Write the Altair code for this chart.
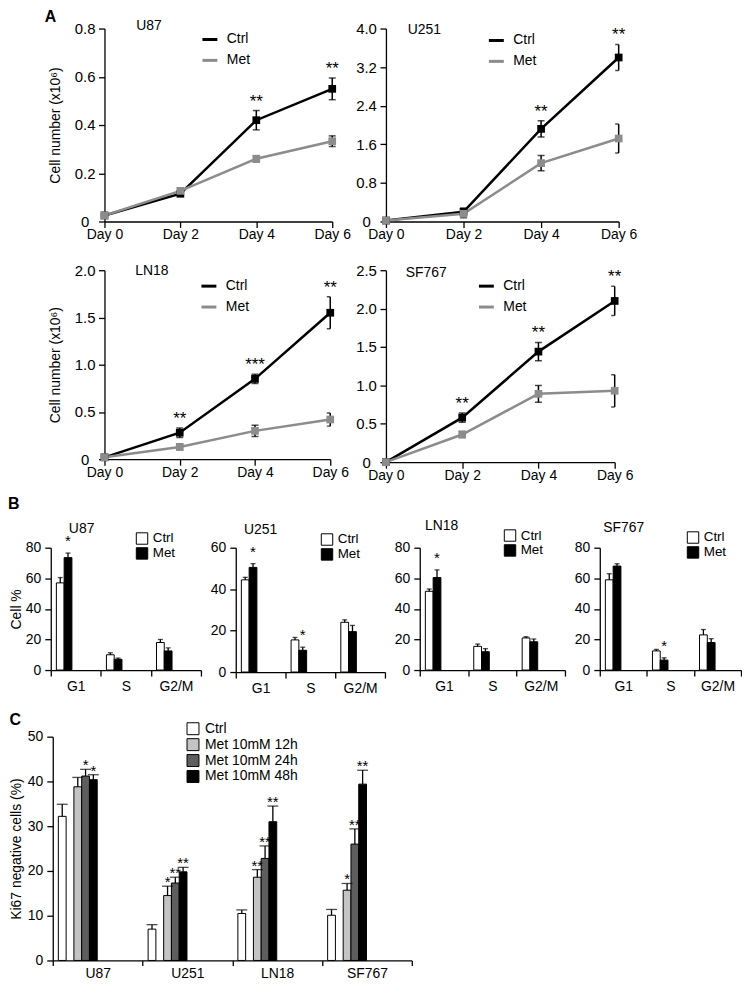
import altair as alt
import pandas as pd

FONT = "Liberation Sans"

# ---------------- Panel A : growth curves ----------------
days = [0, 2, 4, 6]
a_groups = ["Ctrl", "Met"]

u87_ctrl = [0.025, 0.115, 0.42, 0.55]
u87_ctrl_err = [0.0, 0.01, 0.04, 0.045]
u87_met = [0.025, 0.127, 0.26, 0.333]
u87_met_err = [0.0, 0.012, 0.013, 0.022]
u87_stars = ["", "", "**", "**"]
u87_ticks = [0, 0.2, 0.4, 0.6, 0.8]

u251_ctrl = [0.02, 0.20, 1.92, 3.40]
u251_ctrl_err = [0.0, 0.08, 0.17, 0.27]
u251_met = [0.02, 0.16, 1.21, 1.72]
u251_met_err = [0.0, 0.08, 0.16, 0.30]
u251_stars = ["", "", "**", "**"]
u251_ticks = [0, 0.8, 1.6, 2.4, 3.2, 4.0]

ln18_ctrl = [0.02, 0.28, 0.85, 1.55]
ln18_ctrl_err = [0.0, 0.05, 0.05, 0.17]
ln18_met = [0.02, 0.13, 0.30, 0.42]
ln18_met_err = [0.0, 0.03, 0.06, 0.07]
ln18_stars = ["", "**", "***", "**"]
ln18_ticks = [0, 0.5, 1.0, 1.5, 2.0]

sf767_ctrl = [0.0, 0.58, 1.44, 2.10]
sf767_ctrl_err = [0.0, 0.06, 0.12, 0.19]
sf767_met = [0.0, 0.36, 0.89, 0.93]
sf767_met_err = [0.0, 0.04, 0.11, 0.21]
sf767_stars = ["", "**", "**", "**"]
sf767_ticks = [0, 0.5, 1.0, 1.5, 2.0, 2.5]

# ---------------- Panel B : cell cycle ----------------
phases = ["G1", "S", "G2/M"]
b_groups = ["Ctrl", "Met"]

b_u87_ctrl = [57, 10, 18]
b_u87_ctrl_err = [3.5, 1.3, 2.0]
b_u87_met = [73.5, 7, 12.5]
b_u87_met_err = [3.0, 0.8, 2.0]
b_u87_stars = ["*", "", ""]

b_u251_ctrl = [44.5, 15.5, 24]
b_u251_ctrl_err = [1.2, 1.2, 1.2]
b_u251_met = [50.5, 10.5, 19.5]
b_u251_met_err = [1.8, 1.5, 3.0]
b_u251_stars = ["*", "*", ""]

b_ln18_ctrl = [51.5, 15.5, 21]
b_ln18_ctrl_err = [1.5, 1.5, 0.8]
b_ln18_met = [60.5, 12, 18.5]
b_ln18_met_err = [5.0, 2.0, 1.8]
b_ln18_stars = ["*", "", ""]

b_sf767_ctrl = [59, 12.5, 23]
b_sf767_ctrl_err = [4.0, 1.0, 3.5]
b_sf767_met = [68, 6.5, 18]
b_sf767_met_err = [1.5, 1.5, 2.5]
b_sf767_stars = ["", "*", ""]

# ---------------- Panel C : Ki67 ----------------
c_cells = ["U87", "U251", "LN18", "SF767"]
c_groups = ["Ctrl", "Met 10mM 12h", "Met 10mM 24h", "Met 10mM 48h"]
c_ctrl = [32.2, 7.0, 10.5, 10.1]
c_ctrl_err = [2.7, 1.0, 0.8, 1.3]
c_12h = [38.8, 14.5, 18.6, 15.7]
c_12h_err = [2.1, 2.1, 1.7, 1.5]
c_24h = [41.2, 17.3, 22.8, 26.0]
c_24h_err = [1.5, 1.3, 2.8, 3.4]
c_48h = [40.4, 19.8, 31.0, 39.4]
c_48h_err = [1.1, 1.0, 3.5, 3.1]
c_12h_stars = ["", "*", "**", "*"]
c_24h_stars = ["*", "**", "**", "**"]
c_48h_stars = ["*", "**", "**", "**"]
c_ticks = [0, 10, 20, 30, 40, 50]


def spacer(w, h=1):
    return alt.Chart(pd.DataFrame({"v": [0]})).mark_point(opacity=0, size=1).properties(
        width=w, height=h)


def line_panel(name, ctrl, ctrl_err, met, met_err, stars, yticks, w, h, ytitle,
               tdx, toff, lx, ly, clip_caps):
    recs = []
    for g, vals, errs in (("Ctrl", ctrl, ctrl_err), ("Met", met, met_err)):
        for d, v, e in zip(days, vals, errs):
            recs.append({"day": d, "group": g, "value": v, "lo": v - e, "hi": v + e, "err": e})
    df = pd.DataFrame(recs)
    edf = df[df["err"] > 0]
    sdf = pd.DataFrame({"day": days, "hi": [v + e for v, e in zip(ctrl, ctrl_err)], "star": stars})
    sdf = sdf[sdf["star"] != ""]

    xs = alt.Scale(domain=[0, 6], nice=False, zero=False)
    ys = alt.Scale(domain=[0, yticks[-1]], nice=False)
    xax = alt.Axis(values=days, labelExpr="'Day ' + datum.value", labelFlush=False,
                   labelPadding=0, labelFontSize=14)
    yax = alt.Axis(values=yticks, titlePadding=12, labelFontSize=15, labelAlign="center",
                   labelPadding=14,
                   labelExpr="datum.value == 0 ? '0' : format(datum.value, '.1f')")

    def X(f):
        return alt.X(f"{f}:Q", scale=xs, axis=xax, title=None)

    def Y(f):
        return alt.Y(f"{f}:Q", scale=ys, axis=yax, title=ytitle)

    cs = alt.Scale(domain=a_groups, range=["#000000", "#8c8c8c"])
    leg = alt.Legend(orient="none", legendX=lx, legendY=ly, title=None, symbolType="stroke",
                     symbolSize=225, symbolStrokeWidth=3, labelFontSize=14, labelOffset=8,
                     rowPadding=5, padding=0)
    base = alt.Chart(df)
    line = base.mark_line(strokeWidth=2.5).encode(
        x=X("day"), y=Y("value"), color=alt.Color("group:N", scale=cs, legend=leg))
    pts = base.mark_point(shape="square", filled=True, size=60, opacity=1).encode(
        x=X("day"), y=Y("value"), color=alt.Color("group:N", scale=cs, legend=None))
    ebase = alt.Chart(edf)
    rule = ebase.mark_rule(color="black", strokeWidth=1.5).encode(
        x=X("day"), y=Y("lo"), y2="hi:Q")
    cap_hi = ebase.mark_tick(color="black", size=7, thickness=1.5, orient="horizontal",
                             clip=clip_caps).encode(x=X("day"), y=Y("hi"))
    cap_lo = ebase.mark_tick(color="black", size=7, thickness=1.5, orient="horizontal",
                             clip=clip_caps).encode(x=X("day"), y=Y("lo"))
    star = alt.Chart(sdf).mark_text(fontSize=17, baseline="alphabetic", dy=-4,
                                     color="black", font=FONT).encode(
        x=X("day"), y=Y("hi"), text="star:N")
    return alt.layer(line, rule, cap_hi, cap_lo, pts, star).properties(
        width=w, height=h,
        title=alt.TitleParams(name, anchor="start", frame="group", dx=tdx, offset=toff,
                              fontSize=14, fontWeight="normal", font=FONT, color="black"))


def grouped_bars(df, sdf, xfield, xdomain, groups, colors, yticks, w, h, ytitle, tpad,
                 pad_outer, cap, leg, star_size, star_dy, title, xtick, xlabpad):
    xs = alt.Scale(domain=xdomain, paddingInner=0, paddingOuter=0)
    xax = alt.Axis(labelAngle=0, tickBand="extent", labelPadding=xlabpad, tickSize=xtick)
    xo = alt.XOffset("group:N", scale=alt.Scale(domain=groups, paddingInner=0,
                                                paddingOuter=pad_outer))
    ys = alt.Scale(domain=[0, yticks[-1]], nice=False)
    yax = alt.Axis(values=yticks, titlePadding=tpad)

    X = alt.X(f"{xfield}:N", scale=xs, axis=xax, title=None)

    def Y(f):
        return alt.Y(f"{f}:Q", scale=ys, axis=yax, title=ytitle)

    base = alt.Chart(df)
    bars = base.mark_bar(stroke="black", strokeWidth=1).encode(
        x=X, xOffset=xo, y=Y("value"),
        color=alt.Color("group:N", scale=alt.Scale(domain=groups, range=colors), legend=leg))
    rule = base.mark_rule(color="black", strokeWidth=1.3).encode(
        x=X, xOffset=xo, y=Y("value"), y2="hi:Q")
    capm = base.mark_tick(color="black", size=cap, thickness=1.3, orient="horizontal").encode(
        x=X, xOffset=xo, y=Y("hi"))
    star = alt.Chart(sdf).mark_text(fontSize=star_size, baseline="alphabetic", dy=star_dy,
                                     color="black", font=FONT).encode(
        x=X, xOffset=xo, y=Y("hi"), text="star:N")
    return alt.layer(bars, rule, capm, star).properties(width=w, height=h, title=title)


def cycle_panel(name, ctrl, ctrl_err, met, met_err, stars, yticks, ytitle, tdx, toff, lx, ly,
                w, h=123):
    recs = []
    for g, vals, errs in (("Ctrl", ctrl, ctrl_err), ("Met", met, met_err)):
        for p, v, e in zip(phases, vals, errs):
            recs.append({"phase": p, "group": g, "value": v, "hi": v + e})
    df = pd.DataFrame(recs)
    sdf = pd.DataFrame({"phase": phases, "group": ["Met"] * 3,
                        "hi": [v + e for v, e in zip(met, met_err)], "star": stars})
    sdf = sdf[sdf["star"] != ""]
    leg = alt.Legend(orient="none", legendX=lx, legendY=ly, title=None, symbolType="square",
                     symbolSize=132, symbolStrokeColor="black", symbolStrokeWidth=1,
                     labelFontSize=13.5, labelOffset=4, rowPadding=-3.5, padding=0)
    title = alt.TitleParams(name, anchor="start", frame="group", align="center", dx=tdx,
                            offset=toff, fontSize=14, fontWeight="normal", font=FONT,
                            color="black")
    return grouped_bars(df, sdf, "phase", phases, b_groups, ["#ffffff", "#000000"], yticks,
                        w, h, ytitle, 2, 0.72, 5, leg, 15, -7, title, 6, 4)


# ---- build panel A ----
u87a = line_panel("U87", u87_ctrl, u87_ctrl_err, u87_met, u87_met_err, u87_stars, u87_ticks,
                  229, 194, "Cell number (x10\u2076)", 32, -11, 97, 2, False)
u251a = line_panel("U251", u251_ctrl, u251_ctrl_err, u251_met, u251_met_err, u251_stars,
                   u251_ticks, 234, 194, None, 22, -15, 102, 3, True)
ln18a = line_panel("LN18", ln18_ctrl, ln18_ctrl_err, ln18_met, ln18_met_err, ln18_stars,
                   ln18_ticks, 227, 190, "Cell number (x10\u2076)", 31, -15, 96, 7, True)
sf767a = line_panel("SF767", sf767_ctrl, sf767_ctrl_err, sf767_met, sf767_met_err, sf767_stars,
                    sf767_ticks, 230, 193, None, 20, -17, 92, 7, True)

colL = alt.vconcat(u87a, ln18a, spacing=22).resolve_scale(color="independent")
colR = alt.vconcat(u251a, sf767a, spacing=22).resolve_scale(color="independent")
pairA = alt.hconcat(colL, colR, spacing=4).resolve_scale(color="independent")
rowA = alt.hconcat(
    spacer(31), pairA, spacing=9,
    title=alt.TitleParams("A", anchor="start", dx=37, offset=-6, fontSize=16,
                          fontWeight="bold", font=FONT, color="black"),
).resolve_scale(color="independent")

# ---- build panel B ----
u87b = cycle_panel("U87", b_u87_ctrl, b_u87_ctrl_err, b_u87_met, b_u87_met_err, b_u87_stars,
                   [0, 20, 40, 60, 80], "Cell %", 31, -4, 85, -16, 151)
u251b = cycle_panel("U251", b_u251_ctrl, b_u251_ctrl_err, b_u251_met, b_u251_met_err,
                    b_u251_stars, [0, 20, 40, 60], None, 25, -4, 85, -15, 150, h=125)
ln18b = cycle_panel("LN18", b_ln18_ctrl, b_ln18_ctrl_err, b_ln18_met, b_ln18_met_err,
                    b_ln18_stars, [0, 20, 40, 60, 80], None, 22, -4, 84, -19, 146)
sf767b = cycle_panel("SF767", b_sf767_ctrl, b_sf767_ctrl_err, b_sf767_met, b_sf767_met_err,
                     b_sf767_stars, [0, 20, 40, 60, 80], None, 24, -4, 87, -17, 142)
innerB = alt.hconcat(u87b, u251b, ln18b, sf767b, spacing=8).resolve_scale(color="independent")
rowB = alt.hconcat(
    spacer(1), innerB, spacing=0,
    title=alt.TitleParams("B", anchor="start", offset=7, fontSize=16, fontWeight="bold",
                          font=FONT, color="black"),
).resolve_scale(color="independent")

# ---- build panel C ----
c_recs = []
c_star_recs = []
for g, vals, errs, st in (("Ctrl", c_ctrl, c_ctrl_err, [""] * 4),
                          ("Met 10mM 12h", c_12h, c_12h_err, c_12h_stars),
                          ("Met 10mM 24h", c_24h, c_24h_err, c_24h_stars),
                          ("Met 10mM 48h", c_48h, c_48h_err, c_48h_stars)):
    for cell, v, e, s in zip(c_cells, vals, errs, st):
        c_recs.append({"cell": cell, "group": g, "value": v, "hi": v + e})
        if s:
            c_star_recs.append({"cell": cell, "group": g, "hi": v + e, "star": s})
c_df = pd.DataFrame(c_recs)
c_sdf = pd.DataFrame(c_star_recs)
c_leg = alt.Legend(orient="none", legendX=134, legendY=-15, title=None, symbolType="square",
                   symbolSize=144, symbolStrokeColor="black", symbolStrokeWidth=1,
                   labelFontSize=14, labelOffset=5, rowPadding=0, padding=0)
c_title = alt.TitleParams("C", anchor="start", frame="bounds", offset=-6, fontSize=16,
                          fontWeight="bold", font=FONT, color="black")
panelC = grouped_bars(c_df, c_sdf, "cell", c_cells, c_groups,
                      ["#ffffff", "#c4c4c4", "#5e5e5e", "#000000"], c_ticks, 361, 225,
                      "Ki67 negative cells (%)", 4, 0.69, 11, c_leg, 15, 1, c_title, 5, 1)
rowC = alt.hconcat(spacer(1), panelC, spacing=0).resolve_scale(color="independent")

upper = alt.vconcat(rowA, rowB, spacing=14).resolve_scale(color="independent")
chart = alt.vconcat(upper, rowC, spacing=16).resolve_scale(color="independent")

chart = chart.properties(
    padding={"top": -2, "left": 0, "right": 0, "bottom": 0}
).configure_view(stroke=None).configure_axis(
    domainColor="black", domainWidth=1.3, tickColor="black", tickWidth=1.3, tickSize=6,
    labelColor="black", labelFont=FONT, labelFontSize=14, labelPadding=4,
    titleFont=FONT, titleFontSize=14, titleFontWeight="normal", titleColor="black",
    grid=False,
).configure_legend(labelFont=FONT, labelColor="black").configure_text(font=FONT)

chart.save("out.html", embed_options={"renderer": "svg", "actions": False})
